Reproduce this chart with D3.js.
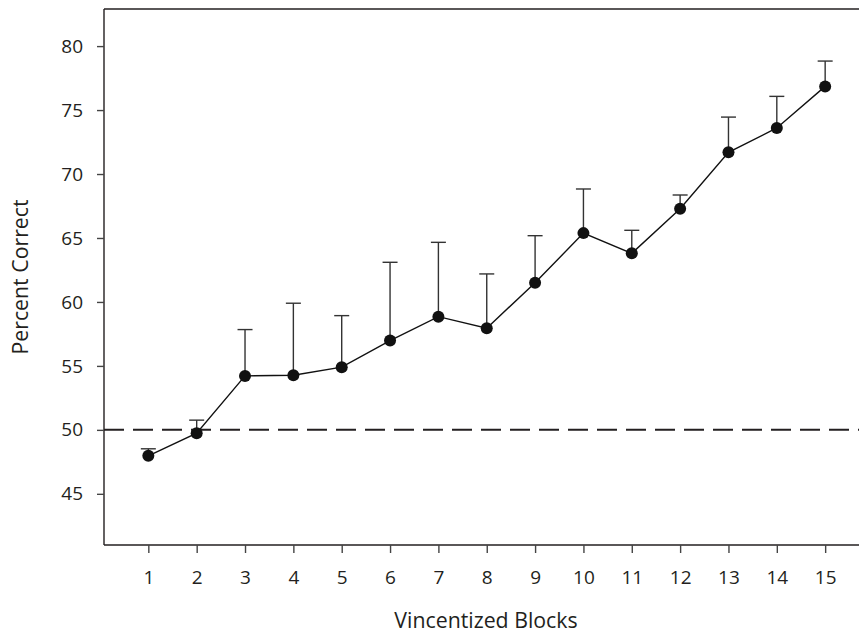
<!DOCTYPE html>
<html lang="en">
<head>
    <meta charset="UTF-8">
    <title>Percent Correct by Vincentized Blocks</title>
    <script src="https://d3js.org/d3.v7.min.js"></script>
    <style>
        body {
            margin: 0;
            padding: 0;
            background-color: #fff;
        }
        svg text {
            font-family: "Open Sans", "Noto Sans", sans-serif;
            fill: #231f20;
        }
        .tick-label {
            font-size: 19px;
        }
        .axis-title {
            font-size: 21.3px;
        }
    </style>
</head>
<body>
    <svg id="chart" width="859" height="634"></svg>

    <script>
        // data
        const blocks = [1, 2, 3, 4, 5, 6, 7, 8, 9, 10, 11, 12, 13, 14, 15];
        const meanCorrect = [47.97, 49.74, 54.22, 54.27, 54.9, 56.98, 58.85, 57.95, 61.5, 65.38, 63.8, 67.29, 71.7, 73.6, 76.85];
        const upperError = [48.52, 50.76, 57.84, 59.9, 58.93, 63.1, 64.66, 62.19, 65.18, 68.83, 65.6, 68.36, 74.45, 76.07, 78.83];
        const yTicks = [45, 50, 55, 60, 65, 70, 75, 80];
        const chanceLevel = 50;

        const width = 859;
        const height = 634;
        const margin = { top: 9, right: 0, bottom: 89, left: 104 };

        const svg = d3.select("#chart");

        const x = d3.scaleLinear()
            .domain([0.083, 15.7])
            .range([margin.left, width - margin.right]);

        const y = d3.scaleLinear()
            .domain([41, 82.9])
            .range([height - margin.bottom, margin.top]);

        const data = blocks.map((b, i) => ({ block: b, mean: meanCorrect[i], upper: upperError[i] }));

        // top frame line
        svg.append("line")
            .attr("x1", margin.left).attr("x2", width)
            .attr("y1", margin.top).attr("y2", margin.top)
            .attr("stroke", "#231f20")
            .attr("stroke-width", 1.4);

        // y axis
        const yAxis = svg.append("g")
            .attr("transform", `translate(${margin.left},0)`)
            .call(d3.axisLeft(y).tickValues(yTicks).tickSize(7).tickPadding(14));
        yAxis.select(".domain").attr("stroke", "#231f20").attr("stroke-width", 1.4)
            .attr("d", `M0,${margin.top}V${height - margin.bottom}`);
        yAxis.selectAll(".tick line").attr("stroke", "#444").attr("stroke-width", 1.4);
        yAxis.selectAll(".tick text").attr("class", "tick-label");

        // x axis
        const xAxis = svg.append("g")
            .attr("transform", `translate(0,${height - margin.bottom})`)
            .call(d3.axisBottom(x).tickValues(blocks).tickFormat(d3.format("d")).tickSize(8).tickPadding(18));
        xAxis.select(".domain").attr("stroke", "#231f20").attr("stroke-width", 1.4)
            .attr("d", `M${margin.left},0H${width}`);
        xAxis.selectAll(".tick line").attr("stroke", "#444").attr("stroke-width", 1.4);
        xAxis.selectAll(".tick text").attr("class", "tick-label");

        // dashed chance line
        svg.append("line")
            .attr("x1", margin.left).attr("x2", width)
            .attr("y1", y(chanceLevel)).attr("y2", y(chanceLevel))
            .attr("stroke", "#231f20")
            .attr("stroke-width", 2)
            .attr("stroke-dasharray", "20,9");

        // error bars (upper only)
        const bars = svg.append("g")
            .attr("stroke", "#333")
            .attr("stroke-width", 1.4);
        bars.selectAll("line.stem")
            .data(data)
            .join("line")
            .attr("class", "stem")
            .attr("x1", d => x(d.block)).attr("x2", d => x(d.block))
            .attr("y1", d => y(d.mean)).attr("y2", d => y(d.upper));
        bars.selectAll("line.cap")
            .data(data)
            .join("line")
            .attr("class", "cap")
            .attr("x1", d => x(d.block) - 7.5).attr("x2", d => x(d.block) + 7.5)
            .attr("y1", d => y(d.upper)).attr("y2", d => y(d.upper));

        // mean line
        svg.append("path")
            .datum(data)
            .attr("fill", "none")
            .attr("stroke", "#111")
            .attr("stroke-width", 1.4)
            .attr("d", d3.line().x(d => x(d.block)).y(d => y(d.mean)));

        // points
        svg.append("g")
            .selectAll("circle")
            .data(data)
            .join("circle")
            .attr("cx", d => x(d.block))
            .attr("cy", d => y(d.mean))
            .attr("r", 6)
            .attr("fill", "#111");

        // axis titles
        svg.append("text")
            .attr("class", "axis-title")
            .attr("x", 486)
            .attr("y", 628)
            .attr("text-anchor", "middle")
            .text("Vincentized Blocks");

        svg.append("text")
            .attr("class", "axis-title")
            .attr("transform", `translate(28,${(margin.top + height - margin.bottom) / 2}) rotate(-90)`)
            .attr("text-anchor", "middle")
            .text("Percent Correct");
    </script>
</body>
</html>
